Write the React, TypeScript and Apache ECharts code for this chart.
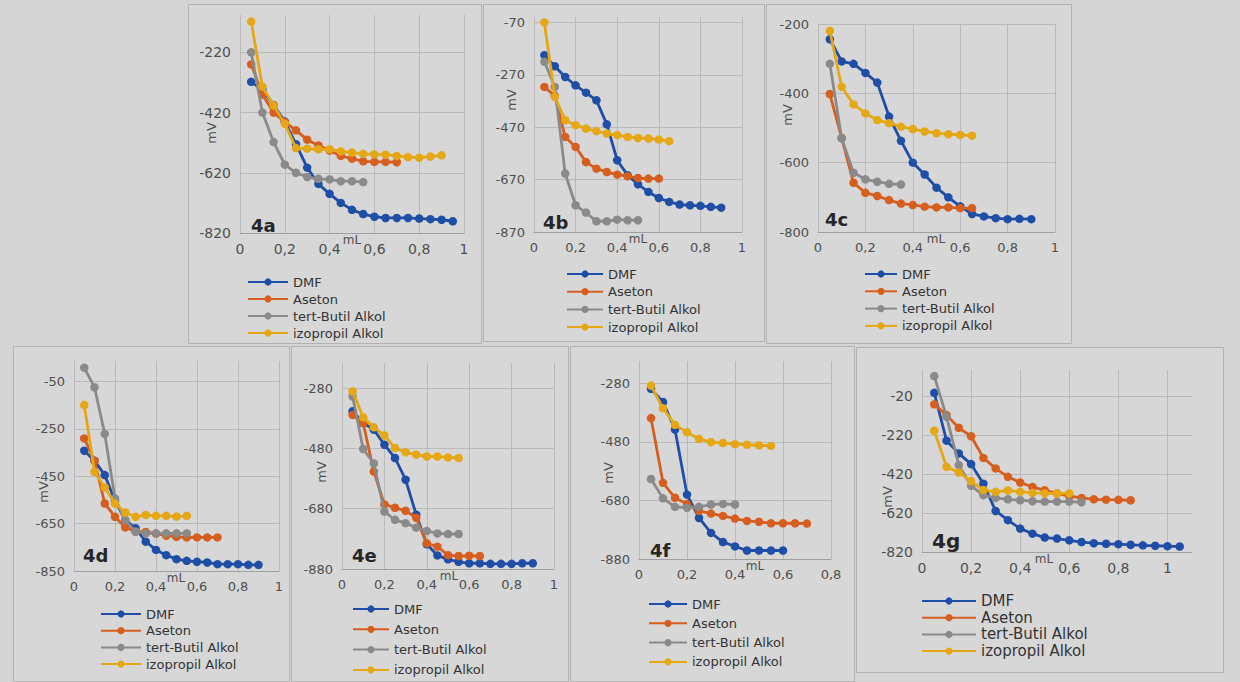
import React, { useEffect, useRef } from 'react';
import * as echarts from 'echarts';

// ---------- DATA ----------
const SOLVENTS = ['DMF', 'Aseton', 'tert-Butil Alkol', 'izopropil Alkol'];
const PANEL_NAMES = ['4a', '4b', '4c', '4d', '4e', '4f', '4g'];
const AXIS_X_NAME = 'mL';
const AXIS_Y_NAME = 'mV';
// added volume (mL) of each reading
const ML_STEPS = [0.05, 0.1, 0.15, 0.2, 0.25, 0.3, 0.35, 0.4, 0.45, 0.5, 0.55, 0.6, 0.65, 0.7, 0.75, 0.8, 0.85, 0.9, 0.95, 1.0, 1.05];

// 4a
const a_dmf = [-318, -345, -395, -450, -525, -603, -657, -690, -720, -743, -757, -766, -770, -770, -770, -772, -774, -776, -781];
const a_ase = [-260, -360, -420, -451, -479, -510, -529, -546, -564, -573, -582, -584, -584, -585];
const a_tba = [-220, -420, -518, -593, -620, -634, -640, -642, -648, -648, -651];
const a_ipa = [-118, -334, -396, -457, -538, -540, -542, -542, -549, -553, -557, -559, -560, -564, -568, -570, -566, -562];
// 4b
const b_dmf = [-195, -237, -278, -310, -338, -367, -459, -596, -653, -688, -717, -740, -755, -765, -768, -770, -774, -777];
const b_ase = [-316, -350, -507, -545, -603, -628, -641, -651, -657, -664, -666, -666];
const b_tba = [-220, -316, -647, -768, -796, -829, -829, -823, -825, -825];
const b_ipa = [-70, -354, -443, -462, -475, -485, -494, -500, -507, -511, -513, -517, -523];
// 4c
const c_dmf = [-244, -308, -315, -341, -369, -467, -537, -600, -634, -672, -700, -726, -748, -755, -760, -763, -762, -763];
const c_ase = [-402, -529, -658, -687, -696, -708, -718, -722, -727, -729, -729, -731, -731];
const c_tba = [-315, -530, -629, -648, -655, -661, -663];
const c_ipa = [-220, -381, -432, -458, -477, -486, -496, -503, -510, -515, -518, -520, -522];
// 4d
const d_dmf = [-342, -384, -445, -553, -635, -669, -726, -761, -783, -800, -807, -811, -814, -821, -821, -821, -824, -824];
const d_ase = [-290, -384, -565, -621, -666, -683, -685, -692, -701, -706, -708, -708, -708, -708];
const d_tba = [9, -74, -271, -543, -635, -684, -691, -691, -691, -691, -691];
const d_ipa = [-149, -431, -497, -565, -603, -621, -613, -617, -617, -620, -617];
// 4e
const e_dmf = [-357, -396, -418, -468, -512, -584, -700, -798, -835, -848, -856, -861, -861, -863, -863, -863, -861, -861];
const e_ase = [-369, -396, -557, -666, -677, -687, -710, -795, -806, -834, -837, -836, -837];
const e_tba = [-308, -482, -530, -690, -717, -728, -743, -754, -762, -764, -764];
const e_ipa = [-291, -377, -410, -437, -479, -493, -501, -507, -507, -510, -512];
// 4f
const f_dmf = [-299, -344, -438, -660, -740, -791, -822, -837, -851, -851, -851, -851];
const f_ase = [-399, -620, -671, -692, -716, -725, -733, -742, -750, -753, -758, -758, -758, -759];
const f_tba = [-607, -673, -702, -705, -702, -694, -692, -694];
const f_ipa = [-288, -365, -422, -447, -470, -481, -484, -488, -490, -492, -494];
// 4g
const g_dmf = [-5, -250, -315, -370, -470, -610, -657, -700, -726, -746, -751, -760, -769, -775, -778, -780, -783, -786, -788, -790, -792];
const g_ase = [-64, -119, -184, -227, -338, -392, -435, -464, -487, -504, -520, -534, -543, -550, -552, -553, -555];
const g_tba = [81, -128, -375, -481, -529, -543, -550, -555, -560, -562, -562, -562, -565];
const g_ipa = [-199, -384, -413, -457, -503, -512, -505, -512, -517, -520, -520, -520];

const PANEL_SERIES = [
  [a_dmf, a_ase, a_tba, a_ipa],
  [b_dmf, b_ase, b_tba, b_ipa],
  [c_dmf, c_ase, c_tba, c_ipa],
  [d_dmf, d_ase, d_tba, d_ipa],
  [e_dmf, e_ase, e_tba, e_ipa],
  [f_dmf, f_ase, f_tba, f_ipa],
  [g_dmf, g_ase, g_tba, g_ipa],
];

// axis ranges per panel
const Y_MIN = [-820, -870, -800, -850, -880, -880, -820];
const Y_MAX = [-96, -49, -200, 37, -197, -204, 112];
const X_MAX = [1, 1, 1, 1, 1, 0.8, 1.1];

// ---------- LAYOUT / STYLE ----------
const COLORS = ['#1f4ea6', '#d65e1f', '#8a8a8a', '#e6a714'];
const FONT = '"DejaVu Sans", "Open Sans", sans-serif';

type Layout = {
  rect: number[]; grid: number[]; tick: number; legend: { left: number; top: number; w: number; step: number; font: number };
  tag: { x: number; y: number; size: number }; mv: number[]; ml: number[];
};
const LAYOUT: Layout[] = [
  { rect: [188, 4, 293, 339], grid: [240, 15, 224, 218], tick: 14, legend: { left: 247, top: 275, w: 40, step: 17, font: 13 }, tag: { x: 251, y: 225, size: 18 }, mv: [211, 133], ml: [352, 240] },
  { rect: [483, 4, 281, 337], grid: [534, 17, 208, 215], tick: 13, legend: { left: 566, top: 267, w: 36, step: 17.7, font: 13 }, tag: { x: 543, y: 222, size: 18 }, mv: [511, 100], ml: [638, 239] },
  { rect: [766, 4, 305, 339], grid: [818, 24, 237, 208], tick: 13, legend: { left: 864, top: 267, w: 32, step: 17.3, font: 13 }, tag: { x: 825, y: 219, size: 18 }, mv: [787, 115], ml: [936, 239] },
  { rect: [13, 346, 276, 335], grid: [74, 361, 205, 210], tick: 13, legend: { left: 100, top: 607, w: 40, step: 16.7, font: 13 }, tag: { x: 83, y: 555, size: 18 }, mv: [43, 492], ml: [176, 578] },
  { rect: [291, 346, 277, 335], grid: [342, 363, 212, 206], tick: 13, legend: { left: 352, top: 602, w: 36, step: 20.3, font: 13 }, tag: { x: 352, y: 555, size: 18 }, mv: [321, 472], ml: [449, 576] },
  { rect: [570, 346, 284, 335], grid: [639, 361, 192, 198], tick: 13, legend: { left: 648, top: 597, w: 38, step: 19.3, font: 13 }, tag: { x: 650, y: 550, size: 18 }, mv: [608, 473], ml: [755, 566] },
  { rect: [856, 347, 367, 325], grid: [922, 370, 270, 182], tick: 14, legend: { left: 921, top: 593, w: 54, step: 16.7, font: 15 }, tag: { x: 932, y: 541, size: 20 }, mv: [887, 497], ml: [1044, 559] },
];

const isStep = (v: number, base: number, step: number) => {
  const k = (v - base) / step;
  return Math.abs(k - Math.round(k)) < 1e-6;
};
const fmtX = (v: number) => {
  const r = Math.round(v * 100) / 100;
  if (!isStep(r, 0, 0.2)) return '';
  return String(r).replace('.', ',');
};

function buildOption() {
  const grid = LAYOUT.map((l) => ({ left: l.grid[0], top: l.grid[1], width: l.grid[2], height: l.grid[3], containLabel: false }));
  const xAxis = LAYOUT.map((l, i) => ({
    type: 'value', gridIndex: i, min: 0, max: X_MAX[i], interval: 0.2,
    axisLine: { show: true, onZero: false, lineStyle: { color: '#a0a0a0', width: 1 } },
    axisTick: { show: false },
    axisLabel: { margin: 9, color: '#4f4f4f', fontSize: l.tick, fontFamily: FONT, formatter: fmtX },
    splitLine: { show: true, showMaxLine: isStep(X_MAX[i], 0, 0.2), lineStyle: { color: '#bababa', width: 1 } },
  }));
  const yAxis = LAYOUT.map((l, i) => ({
    type: 'value', gridIndex: i, min: Y_MIN[i], max: Y_MAX[i], interval: 200,
    axisLine: { show: false, onZero: false }, axisTick: { show: false },
    axisLabel: {
      margin: 9, color: '#4f4f4f', fontSize: l.tick, fontFamily: FONT,
      formatter: (v: number) => (isStep(v, Y_MIN[i], 200) ? String(Math.round(v)) : ''),
    },
    splitLine: { show: true, showMaxLine: isStep(Y_MAX[i], Y_MIN[i], 200), lineStyle: { color: '#bababa', width: 1 } },
  }));
  const legend = LAYOUT.map((l) => {
    const lh = l.legend.font + 1;
    return {
      data: SOLVENTS, orient: 'vertical', left: l.legend.left, top: l.legend.top, padding: 0,
      itemWidth: l.legend.w, itemHeight: 9, itemGap: l.legend.step - lh,
      textStyle: { fontSize: l.legend.font, lineHeight: lh, color: '#333333', fontFamily: FONT },
    };
  });
  const series: any[] = [];
  PANEL_SERIES.forEach((vals, i) => {
    vals.forEach((arr, s) => {
      series.push({
        type: 'line', name: SOLVENTS[s], xAxisIndex: i, yAxisIndex: i,
        data: arr.map((v, k) => [ML_STEPS[k], v]),
        symbol: 'circle', symbolSize: 8.5, showSymbol: true,
        lineStyle: { width: 2.8, color: COLORS[s] },
        itemStyle: { color: COLORS[s] },
        emphasis: { disabled: true },
        z: 2 + s,
      });
    });
  });
  const graphic: any[] = [];
  LAYOUT.forEach((l, i) => {
    graphic.push({
      type: 'rect', silent: true, z: -10,
      shape: { x: l.rect[0] + 0.5, y: l.rect[1] + 0.5, width: l.rect[2], height: l.rect[3] },
      style: { fill: '#d7d7d7', stroke: '#b3b3b3', lineWidth: 1 },
    });
    graphic.push({
      type: 'text', z: 20, x: l.tag.x, y: l.tag.y,
      style: { text: PANEL_NAMES[i], fontSize: l.tag.size, fontWeight: 'bold', fontFamily: FONT, fill: '#262626', verticalAlign: 'middle' },
    });
    graphic.push({
      type: 'text', z: 20, x: l.mv[0], y: l.mv[1], rotation: Math.PI / 2,
      style: { text: AXIS_Y_NAME, fontSize: 13, fontFamily: FONT, fill: '#4f4f4f', align: 'center', verticalAlign: 'middle' },
    });
    graphic.push({
      type: 'text', z: 20, x: l.ml[0], y: l.ml[1],
      style: { text: AXIS_X_NAME, fontSize: 12, fontFamily: FONT, fill: '#4f4f4f', align: 'center', verticalAlign: 'middle' },
    });
  });
  return {
    animation: false,
    backgroundColor: '#d4d4d4',
    textStyle: { fontFamily: FONT },
    grid, xAxis, yAxis, legend, series, graphic,
  };
}

export default function App() {
  const ref = useRef<HTMLDivElement>(null);
  useEffect(() => {
    if (!ref.current) return;
    const chart = echarts.init(ref.current, undefined, { renderer: 'svg' });
    chart.setOption(buildOption() as any);
    return () => chart.dispose();
  }, []);
  return <div ref={ref} style={{ position: 'fixed', left: 0, top: 0, width: 1240, height: 682 }} />;
}
